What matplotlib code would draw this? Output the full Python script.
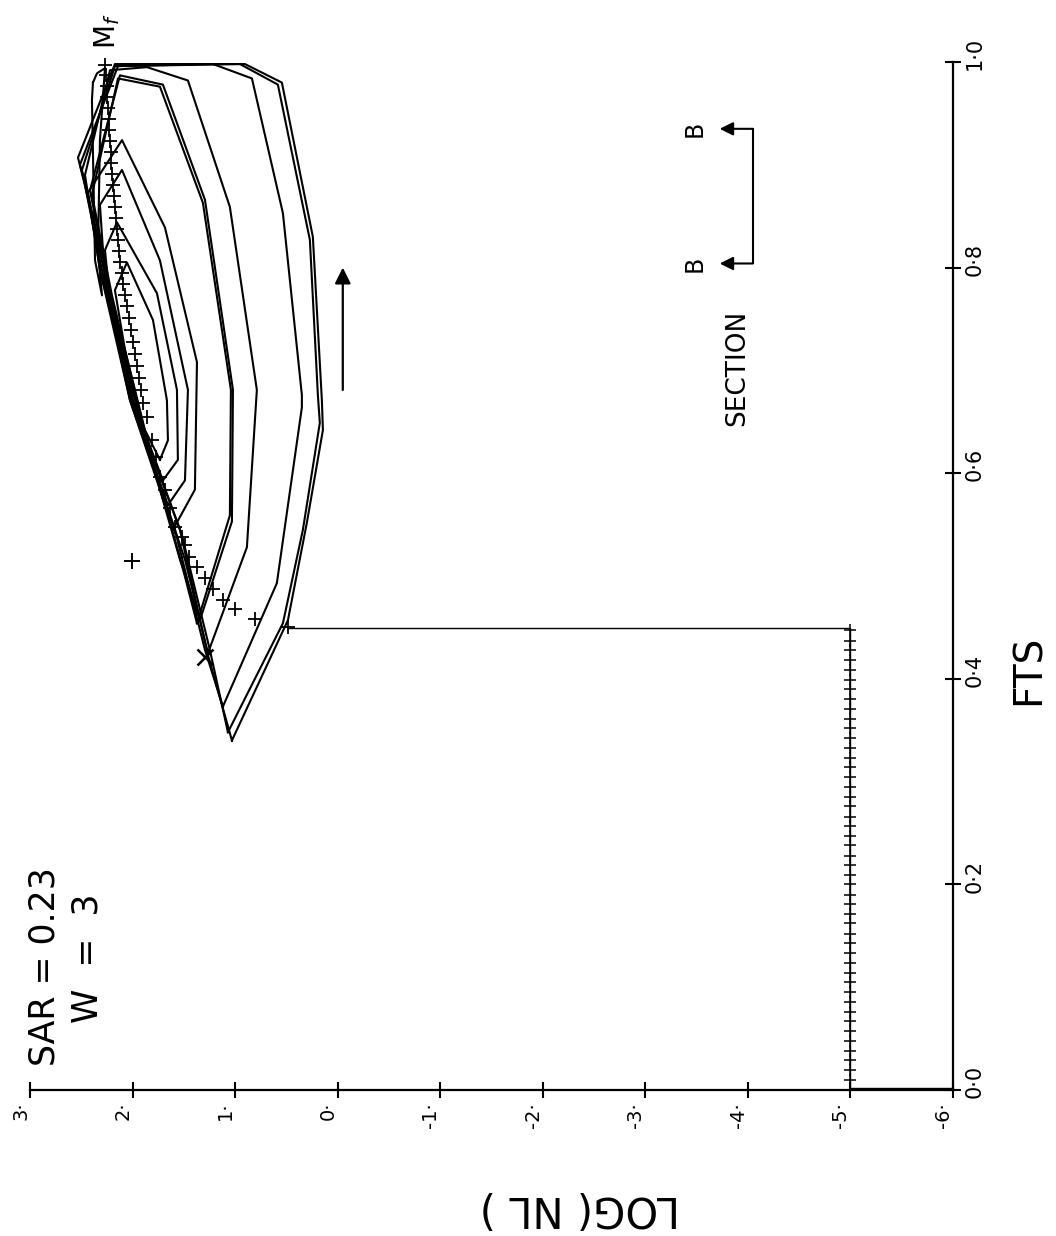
import matplotlib
matplotlib.use("Agg")
import matplotlib.pyplot as plt
from matplotlib.transforms import ScaledTranslation

plt.rcParams.update({"font.family": "DejaVu Sans", "text.color": "black"})

# ---- data: every curve is (LOG(NL), FTS) ----
LOG_TICKS = [3, 2, 1, 0, -1, -2, -3, -4, -5, -6]
LOG_TICK_LABELS = ["3·", "2·", "1·", "0·", "-1·", "-2·", "-3·", "-4·", "-5·", "-6·"]
FTS_TICKS = [0.0, 0.2, 0.4, 0.6, 0.8, 1.0]
FTS_TICK_LABELS = ["0·0", "0·2", "0·4", "0·6", "0·8", "1·0"]

# closed limit-cycle loops, outermost first
loop1a_log = [1.031, 0.485, 0.300, 0.144, 0.154, 0.242, 0.544, 0.904, 2.172, 2.532, 2.464, 2.269, 2.025, 1.538, 1.265, 1.031]
loop1a_fts = [0.340, 0.457, 0.552, 0.642, 0.671, 0.830, 0.980, 0.998, 0.998, 0.907, 0.880, 0.793, 0.676, 0.545, 0.423, 0.340]
loop1b_log = [1.070, 0.534, 0.339, 0.174, 0.193, 0.271, 0.583, 0.953, 2.142, 2.513, 2.435, 2.240, 1.996, 1.519, 1.246, 1.070]
loop1b_fts = [0.348, 0.454, 0.545, 0.649, 0.676, 0.827, 0.978, 0.998, 0.996, 0.900, 0.871, 0.788, 0.671, 0.540, 0.428, 0.348]
loop2_log = [1.119, 0.593, 0.349, 0.349, 0.534, 0.836, 1.216, 2.172, 2.493, 2.318, 2.025, 1.587, 1.294, 1.119]
loop2_fts = [0.373, 0.493, 0.664, 0.676, 0.853, 0.984, 0.998, 0.996, 0.895, 0.807, 0.671, 0.545, 0.428, 0.373]
loop3_log = [1.265, 0.885, 0.788, 1.051, 1.460, 1.860, 2.220, 2.464, 2.318, 1.977, 1.489, 1.265]
loop3_fts = [0.425, 0.528, 0.681, 0.859, 0.982, 0.995, 0.992, 0.890, 0.798, 0.661, 0.516, 0.425]
loop4a_log = [1.343, 1.031, 1.021, 1.294, 1.704, 2.123, 2.415, 2.220, 1.928, 1.538, 1.343]
loop4a_fts = [0.457, 0.553, 0.681, 0.866, 0.978, 0.987, 0.875, 0.778, 0.652, 0.516, 0.457]
loop4b_log = [1.372, 1.051, 1.041, 1.314, 1.733, 2.142, 2.396, 2.201, 1.899, 1.519, 1.372]
loop4b_fts = [0.454, 0.559, 0.681, 0.863, 0.976, 0.984, 0.871, 0.773, 0.647, 0.511, 0.454]
loop5_log = [1.606, 1.392, 1.372, 1.684, 2.103, 2.435, 2.318, 2.025, 1.733, 1.606]
loop5_fts = [0.545, 0.584, 0.708, 0.839, 0.924, 0.873, 0.798, 0.671, 0.584, 0.545]
loop6_log = [1.655, 1.489, 1.460, 1.733, 2.103, 2.318, 2.269, 1.977, 1.655]
loop6_fts = [0.569, 0.593, 0.681, 0.807, 0.895, 0.861, 0.788, 0.661, 0.569]
loop7_log = [1.704, 1.558, 1.567, 1.762, 2.152, 2.269, 2.220, 1.928, 1.704]
loop7_fts = [0.593, 0.613, 0.681, 0.775, 0.844, 0.817, 0.768, 0.652, 0.593]
loop8_log = [1.733, 1.655, 1.665, 1.801, 2.055, 2.172, 2.074, 1.879, 1.733]
loop8_fts = [0.613, 0.632, 0.671, 0.749, 0.805, 0.778, 0.720, 0.642, 0.613]
loop9_log = [2.386, 2.347, 2.269, 2.318, 2.337, 2.298, 2.366, 2.396, 2.386]
loop9_fts = [0.980, 0.989, 0.994, 0.924, 0.817, 0.773, 0.807, 0.963, 0.980]

# start-up path: along LOG = -5, then jump to the cycle
step_log = [-6.0, -5.0, -5.0, 0.485]
step_fts = [0.002, 0.002, 0.449, 0.449]
start_fts = [0.000, 0.010, 0.019, 0.029, 0.038, 0.048, 0.057, 0.067, 0.076, 0.086,
             0.095, 0.105, 0.114, 0.124, 0.133, 0.143, 0.152, 0.162, 0.171, 0.181,
             0.190, 0.200, 0.209, 0.219, 0.228, 0.238, 0.247, 0.257, 0.266, 0.276,
             0.285, 0.295, 0.304, 0.314, 0.323, 0.333, 0.342, 0.352, 0.361, 0.371,
             0.380, 0.390, 0.399, 0.409, 0.418, 0.428, 0.437, 0.447]

# section B-B trajectory points (+)
plus_log = [2.269, 2.259, 2.250, 2.250, 2.240, 2.230, 2.230, 2.220, 2.211, 2.211,
            2.201, 2.191, 2.181, 2.172, 2.162, 2.152, 2.142, 2.133, 2.123, 2.103,
            2.094, 2.074, 2.055, 2.035, 2.016, 1.996, 1.977, 1.957, 1.938, 1.918,
            1.899, 1.860, 1.811, 1.772, 1.733, 1.684, 1.635, 1.587, 1.519, 1.489,
            1.450, 1.372, 1.294, 1.216, 1.119, 1.002, 0.807, 0.485]
plus_fts = [0.997, 0.987, 0.977, 0.966, 0.955, 0.945, 0.934, 0.923, 0.912, 0.902,
            0.891, 0.880, 0.870, 0.859, 0.848, 0.838, 0.827, 0.816, 0.805, 0.795,
            0.784, 0.773, 0.763, 0.751, 0.739, 0.728, 0.716, 0.704, 0.693, 0.681,
            0.668, 0.655, 0.632, 0.616, 0.596, 0.584, 0.566, 0.548, 0.538, 0.530,
            0.518, 0.509, 0.498, 0.487, 0.477, 0.468, 0.458, 0.450]
stray_plus = (2.006, 0.515)
cross_pt = (1.294, 0.421)

arrow_log = -0.05
arrow_fts = [0.681, 0.800]
section_log = [-4.047, -3.725]
section_fts = [0.804, 0.935]

loops = [(loop1a_log, loop1a_fts), (loop1b_log, loop1b_fts), (loop2_log, loop2_fts),
         (loop3_log, loop3_fts), (loop4a_log, loop4a_fts), (loop4b_log, loop4b_fts),
         (loop5_log, loop5_fts), (loop6_log, loop6_fts), (loop7_log, loop7_fts),
         (loop8_log, loop8_fts), (loop9_log, loop9_fts)]

# ---- figure: the plot is drawn turned through 90 degrees ----
fig = plt.figure(figsize=(10.56, 12.36), dpi=100)
ax = fig.add_axes([30 / 1056, 146 / 1236, 923 / 1056, 1028 / 1236])
ax.set_xlim(3, -6)
ax.set_ylim(0, 1)
for sp in ("top", "left"):
    ax.spines[sp].set_visible(False)
for sp in ("bottom", "right"):
    ax.spines[sp].set_linewidth(1.6)
ax.yaxis.tick_right()

ax.set_xticks(LOG_TICKS)
ax.set_xticklabels(LOG_TICK_LABELS, rotation=90, ha="right", va="top")
ax.set_yticks(FTS_TICKS)
ax.set_yticklabels(FTS_TICK_LABELS, rotation=90, ha="left", va="center")
ax.tick_params(axis="x", direction="inout", length=11, width=1.5, labelsize=14, pad=3)
ax.tick_params(axis="y", direction="inout", length=11, width=1.5, labelsize=15, pad=3,
               right=True, left=False)
shift = ScaledTranslation(0, 6 / 72, fig.dpi_scale_trans)
for lab in ax.get_yticklabels():
    lab.set_transform(lab.get_transform() + shift)

for lg, ft in loops:
    ax.plot(lg, ft, color="black", lw=1.5, clip_on=False)

ax.plot(step_log, step_fts, color="black", lw=1.0, clip_on=False)
ax.plot([-5.0] * len(start_fts), start_fts, ls="none", marker="+", ms=8, mew=1.1,
        color="black", clip_on=False)
ax.plot(plus_log, plus_fts, ls="none", marker="+", ms=10, mew=1.3, color="black",
        clip_on=False)
ax.plot(*stray_plus, marker="+", ms=11, mew=1.4, color="black")
ax.plot(*cross_pt, marker="x", ms=11, mew=1.8, color="black")

ax.annotate("", xy=(arrow_log, arrow_fts[1]), xytext=(arrow_log, arrow_fts[0]),
            arrowprops=dict(arrowstyle="-|>", color="black", lw=1.6,
                            mutation_scale=24, shrinkA=0, shrinkB=0))

# section B-B marker
ax.plot([section_log[0], section_log[0]], section_fts, color="black", lw=1.5)
for f in section_fts:
    ax.annotate("", xy=(section_log[1], f), xytext=(section_log[0], f),
                arrowprops=dict(arrowstyle="-|>", color="black", lw=1.5,
                                mutation_scale=20, shrinkA=0, shrinkB=0))
    ax.text(-3.48, f, "B", rotation=90, ha="center", va="center", fontsize=17)
ax.text(-3.90, 0.702, "SECTION", rotation=90, ha="center", va="center", fontsize=19)

ax.text(2.854, 0.023, "SAR = 0.23", rotation=90, rotation_mode="anchor",
        ha="left", va="center", fontsize=25)
ax.text(2.435, 0.065, "W  =  3", rotation=90, rotation_mode="anchor",
        ha="left", va="center", fontsize=25)
ax.text(2.25, 1.030, r"M$_{f}$", rotation=90, ha="center", va="center",
        fontsize=20, clip_on=False)

fig.text(1029 / 1056, 1 - 670 / 1236, "FTS", rotation=90, ha="center", va="center",
         fontsize=28)
fig.text(580 / 1056, 1 - 1208 / 1236, "LOG( NL )", rotation=180, ha="center",
         va="center", fontsize=30)

fig.savefig("out.png", dpi=100, facecolor="white")
